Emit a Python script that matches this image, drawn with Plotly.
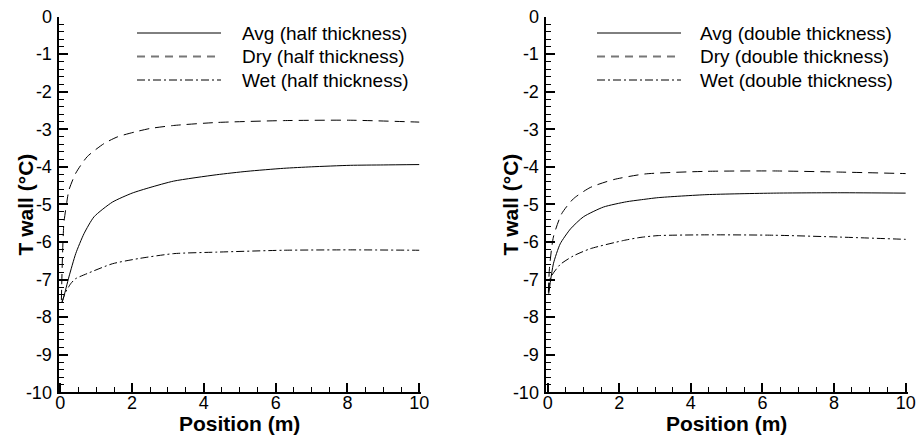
import plotly.graph_objects as go

# Wall temperature along the channel, half-thickness case
half_avg_x = [0.05, 0.1, 0.24, 0.43, 0.66, 0.94, 1.45, 2.0, 2.5, 3.16, 4.36, 5.2, 6.22, 7.0, 8.08, 9.0, 10.0]
half_avg_t = [-7.6, -7.45, -6.93, -6.31, -5.78, -5.33, -4.94, -4.7, -4.55, -4.38, -4.21, -4.12, -4.04, -4.0, -3.96, -3.95, -3.94]

half_dry_x = [0.03, 0.06, 0.1, 0.18, 0.24, 0.43, 0.75, 1.22, 1.6, 2.09, 2.5, 3.16, 4.36, 6.22, 8.08, 10.0]
half_dry_t = [-7.55, -6.4, -5.5, -4.95, -4.62, -4.17, -3.73, -3.38, -3.2, -3.07, -2.98, -2.9, -2.82, -2.77, -2.76, -2.81]

half_wet_x = [0.05, 0.1, 0.15, 0.29, 0.42, 0.75, 1.45, 2.19, 3.16, 4.36, 6.22, 8.08, 10.0]
half_wet_t = [-7.6, -7.45, -7.33, -7.11, -6.98, -6.84, -6.58, -6.44, -6.31, -6.27, -6.22, -6.21, -6.22]

# Wall temperature along the channel, double-thickness case
dbl_avg_x = [0.03, 0.16, 0.35, 0.64, 1.0, 1.56, 2.2, 2.58, 3.09, 4.45, 6.31, 8.17, 10.0]
dbl_avg_t = [-7.38, -6.58, -6.05, -5.65, -5.33, -5.07, -4.93, -4.88, -4.82, -4.74, -4.7, -4.69, -4.7]

dbl_dry_x = [0.02, 0.05, 0.16, 0.39, 0.72, 1.19, 1.84, 2.72, 4.45, 6.31, 8.17, 10.0]
dbl_dry_t = [-7.35, -6.7, -5.87, -5.25, -4.85, -4.55, -4.34, -4.19, -4.12, -4.11, -4.14, -4.18]

dbl_wet_x = [0.03, 0.08, 0.35, 0.72, 1.19, 2.12, 2.58, 3.09, 4.45, 6.31, 8.17, 10.0]
dbl_wet_t = [-7.3, -6.95, -6.6, -6.37, -6.18, -5.96, -5.88, -5.83, -5.81, -5.82, -5.87, -5.93]

half_names = ["Avg (half thickness)", "Dry (half thickness)", "Wet (half thickness)"]
dbl_names = ["Avg (double thickness)", "Dry (double thickness)", "Wet (double thickness)"]

x_ticks = [0, 2, 4, 6, 8, 10]
x_labels = ["0", "2", "4", "6", "8", "10"]
y_ticks = [0, -1, -2, -3, -4, -5, -6, -7, -8, -9, -10]
y_labels = ["0", "-1", "-2", "-3", "-4", "-5", "-6", "-7", "-8", "-9", "-10"]

W, H = 919, 435
FONT = "Arial, Liberation Sans, sans-serif"
dashes = ["solid", "10px,6px", "8px,3px,2px,3px"]

fig = go.Figure()

panels = [
    ("x", "y", [(half_avg_x, half_avg_t), (half_dry_x, half_dry_t), (half_wet_x, half_wet_t)], half_names),
    ("x2", "y2", [(dbl_avg_x, dbl_avg_t), (dbl_dry_x, dbl_dry_t), (dbl_wet_x, dbl_wet_t)], dbl_names),
]
for xa, ya, series, names in panels:
    for (xs, ts), name, dash in zip(series, names, dashes):
        fig.add_trace(go.Scatter(
            x=xs, y=ts, mode="lines", name=name, xaxis=xa, yaxis=ya,
            line=dict(color="black", width=1, dash=dash, shape="spline", smoothing=0.6),
            showlegend=False,
        ))

ydom = [1 - 392.3 / H, 1 - 16.5 / H]
xdoms = [[58.5 / W, 421.0 / W], [545.5 / W, 907.8 / W]]
xranges = [[-0.05, 10.05], [-0.06, 10.06]]

axis_common = dict(
    showline=True, linecolor="black", linewidth=2, showgrid=False, zeroline=False,
    automargin=False,
    ticks="inside", tickcolor="black", tickwidth=2, ticklen=9,
    tickfont=dict(family=FONT, size=18, color="black"),
)

for i, (dom, rng) in enumerate(zip(xdoms, xranges)):
    sfx = "" if i == 0 else "2"
    fig.layout["xaxis" + sfx] = dict(
        axis_common, domain=dom, range=rng, anchor="y" + sfx,
        tickmode="array", tickvals=x_ticks, ticktext=x_labels, ticklabelstandoff=-7,
        minor=dict(tickmode="linear", tick0=0, dtick=0.5, ticks="inside",
                   ticklen=5, tickwidth=1, tickcolor="black"),
    )
    fig.layout["yaxis" + sfx] = dict(
        axis_common, domain=ydom, range=[-10, 0], anchor="x" + sfx,
        tickmode="array", tickvals=y_ticks, ticktext=y_labels, ticklabelstandoff=1,
        minor=dict(tickmode="linear", tick0=0, dtick=0.2, ticks="inside",
                   ticklen=5, tickwidth=1, tickcolor="black"),
    )

annotations = []
shapes = []
# axis titles
for dom, ytx in zip(xdoms, [25 / W, 510 / W]):
    annotations.append(dict(
        text="<b>Position (m)</b>", xref="paper", yref="paper",
        x=(dom[0] + dom[1]) / 2, y=1 - 423.5 / H, xanchor="center", yanchor="middle",
        showarrow=False, borderpad=0, font=dict(family=FONT, size=21, color="black"),
    ))
    annotations.append(dict(
        text="<b>T wall (°C)</b>", xref="paper", yref="paper",
        x=ytx, y=(ydom[0] + ydom[1]) / 2, xanchor="center", yanchor="middle",
        textangle=-90, showarrow=False, font=dict(family=FONT, size=21, color="black"),
    ))

# key entries
legend_rows = [33, 56.5, 80]
key_dash = ["solid", "8px,6px", "8px,3px,2px,3px"]
key_color = ["black", "#777777", "black"]
key_width = [1, 2, 1]
for (x0, x1, xt), names in [((137, 221, 240), half_names), ((597, 681, 698), dbl_names)]:
    for yrow, name, dsh, col, lw in zip(legend_rows, names, key_dash, key_color, key_width):
        shapes.append(dict(
            type="line", xref="paper", yref="paper",
            x0=x0 / W, x1=x1 / W, y0=1 - yrow / H, y1=1 - yrow / H,
            line=dict(color=col, width=lw, dash=dsh),
        ))
        annotations.append(dict(
            text=name, xref="paper", yref="paper", x=xt / W, y=1 - yrow / H,
            xanchor="left", yanchor="middle", showarrow=False,
            font=dict(family=FONT, size=19, color="black"),
        ))

fig.update_layout(
    width=W, height=H, margin=dict(l=0, r=0, t=0, b=0, autoexpand=False),
    paper_bgcolor="white", plot_bgcolor="white",
    annotations=annotations, shapes=shapes, showlegend=False,
)

fig.write_html("out.html")
